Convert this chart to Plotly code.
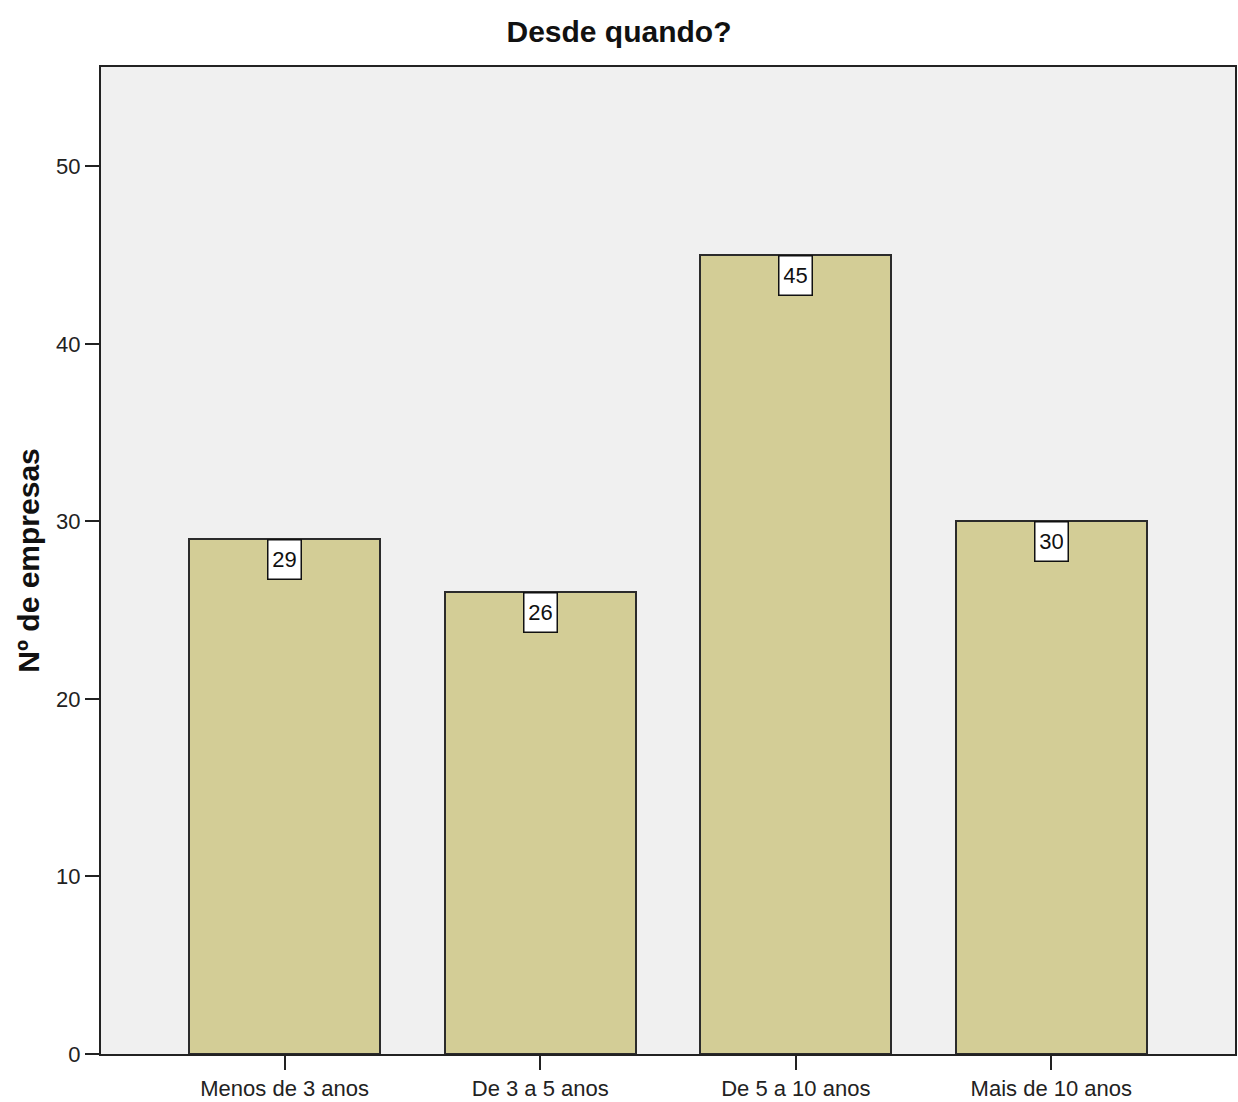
import plotly.graph_objects as go

categories = ["Menos de 3 anos", "De 3 a 5 anos", "De 5 a 10 anos", "Mais de 10 anos"]
counts = [29, 26, 45, 30]
y_ticks = [0, 10, 20, 30, 40, 50]

FONT = "Liberation Sans, Arial, sans-serif"
BAR_COLOR = "#d3cd96"
PLOT_BG = "#f0f0f0"

fig = go.Figure()
fig.add_trace(go.Bar(
    x=categories,
    y=counts,
    width=0.746,
    marker=dict(color=BAR_COLOR, line=dict(color="#2b2b2b", width=2)),
    hoverinfo="x+y",
))

# value boxes hanging just below the top of each bar
for cat, val in zip(categories, counts):
    fig.add_annotation(
        x=cat, y=val, xref="x", yref="y",
        text=str(val), showarrow=False,
        yanchor="top", xanchor="center",
        width=24, height=30,
        font=dict(family=FONT, size=22, color="#111111"),
        bgcolor="white", bordercolor="#111111", borderwidth=1.5, borderpad=4,
    )

# vertical axis title
fig.add_annotation(
    x=(28 - 101) / 1136, y=0.5, xref="paper", yref="paper",
    text="<b>Nº de empresas</b>", showarrow=False, textangle=-90,
    xanchor="center", yanchor="middle",
    font=dict(family=FONT, size=30, color="#111111"),
)

fig.update_layout(
    width=1238, height=1102,
    margin=dict(l=101, r=1, t=67, b=43),
    paper_bgcolor="white",
    plot_bgcolor=PLOT_BG,
    showlegend=False,
    bargap=0,
    title=dict(
        text="<b>Desde quando?</b>",
        x=0.5, xref="container", xanchor="center",
        y=1 - 31 / 1102, yref="container", yanchor="middle",
        font=dict(family=FONT, size=30, color="#111111"),
    ),
    xaxis=dict(
        range=[-0.71875, 3.71875],
        showline=True, linecolor="#222222", linewidth=2, mirror=True,
        ticks="outside", ticklen=14, tickwidth=2, tickcolor="#222222",
        tickfont=dict(family=FONT, size=22, color="#222222"),
        showgrid=False, zeroline=False, fixedrange=True,
    ),
    yaxis=dict(
        range=[0, 55.6],
        tickvals=y_ticks,
        showline=True, linecolor="#222222", linewidth=2, mirror=True,
        ticks="outside", ticklen=14, tickwidth=2, tickcolor="#222222",
        tickfont=dict(family=FONT, size=22, color="#222222"),
        showgrid=False, zeroline=False, fixedrange=True,
    ),
)

fig.write_html("out.html")
